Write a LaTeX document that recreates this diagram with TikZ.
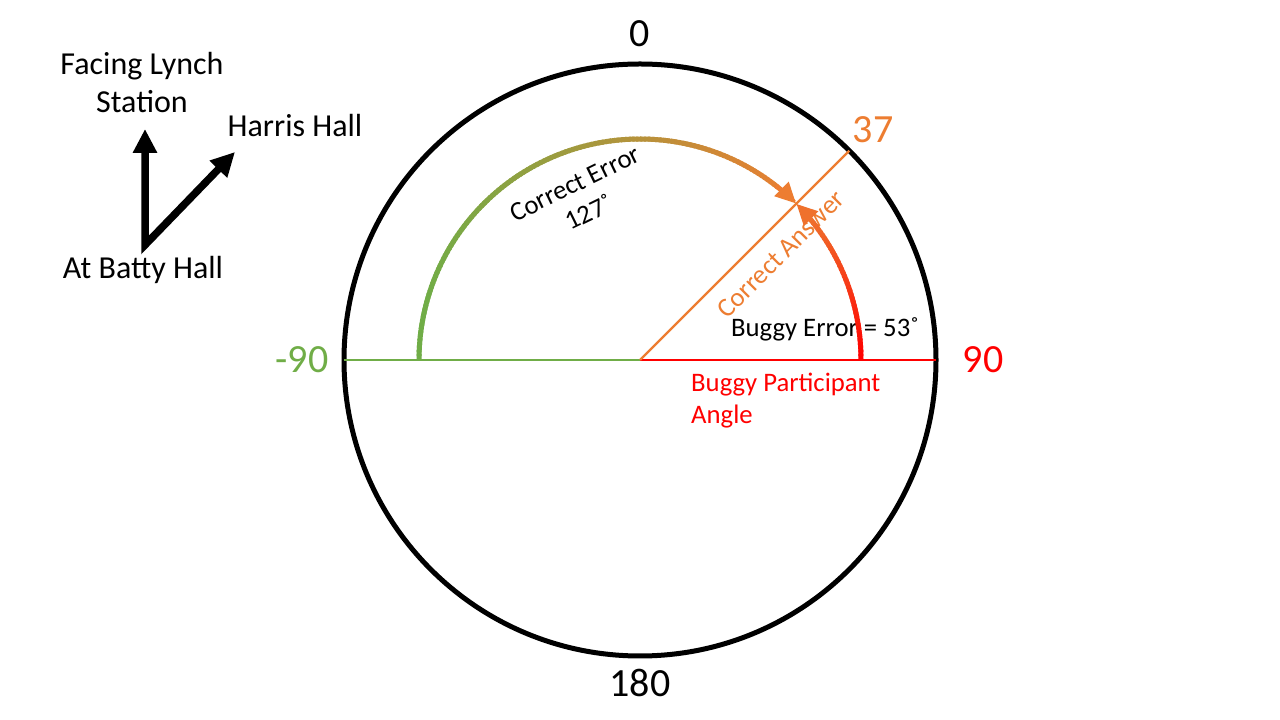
\documentclass[tikz,border=0pt]{standalone}
\usepackage{fontspec}
\setmainfont{Carlito}
\usetikzlibrary{arrows.meta}
\definecolor{grn}{RGB}{112,173,71}
\definecolor{orng}{RGB}{237,125,49}
\definecolor{rd}{RGB}{255,0,0}
\begin{document}
\begin{tikzpicture}[x=1pt,y=1pt,
  numlbl/.style={font=\fontsize{40}{44}\selectfont, inner sep=0pt, anchor=base},
  lbl/.style={font=\fontsize{32}{38}\selectfont, inner sep=0pt, align=center},
  smalllbl/.style={font=\fontsize{26.7}{32}\selectfont, inner sep=0pt, align=center},
  bigtip/.style={line width=7.5pt, {Triangle[length=24pt,width=23pt]}-{Triangle[length=24pt,width=23pt]}},
  arctip/.style={-{Triangle[length=21pt,width=19pt]}},
  arcseg/.style={line width=5pt}
  ]
\useasboundingbox[fill=white] (0,0) rectangle (1280,720);
% dial
\node[circle, draw, line width=5pt, minimum size=592pt, inner sep=0pt, outer sep=0pt] (dial) at (640,360) {};
\coordinate (ctr) at (640,360);
\draw[grn, line width=2.6pt] (dial.west) -- (ctr);
\draw[rd, line width=2.6pt] (ctr) -- (dial.east);
\draw[orng, line width=2.2pt] (ctr) -- (dial.45);
% number labels
\node[numlbl] (n0) at (640,673) {0};
\node[numlbl] (n180) at (640,23) {180};
\node[numlbl, text=grn] (nm90) at (302,347) {-90};
\node[numlbl, text=rd] (n90) at (983,347) {90};
\node[numlbl, text=orng] (n37) at (873,577) {37};
% compass
\node[lbl] (lynch) at (142,637) {Facing Lynch\\Station};
\node[lbl, anchor=base] (harris) at (295,583) {Harris Hall};
\node[lbl, anchor=base] (batty) at (143,441) {At Batty Hall};
\coordinate (bat) at (145,475);
\coordinate (lyn) at (145,591);
\coordinate (har) at (235,568);
\draw[bigtip] (lyn) -- (bat) -- (har);
% inner labels
\node[smalllbl, rotate=26] (cerr) at (582,522) {Correct Error\\127˚};
\node[smalllbl, text=orng, rotate=45] (cans) at (781,466) {Correct Answer};
\node[smalllbl, anchor=base] (berr) at (825,383) {Buggy Error = 53˚};
\node[smalllbl, text=rd, align=left, anchor=north west] (bpa) at (691,347) {Buggy Participant\\Angle};
% correct error arc (green -> orange)
\foreach \a in {180,179,...,53} {
  \pgfmathtruncatemacro\t{min(100,max(0,(221*cos(\a)+220)/380*100))}
  \draw[arcseg, draw=orng!\t!grn] ([shift={(640,360)}]\a:221) arc[start angle=\a, end angle=\a-1.6, radius=221];
}
\draw[arcseg, draw=orng, arctip] ([shift={(640,360)}]52:221) arc[start angle=52, end angle=45, radius=221];
% buggy error arc (red -> orange)
\foreach \a in {0,1,...,38} {
  \pgfmathtruncatemacro\t{min(100,sin(\a)/sin(45)*100)}
  \draw[arcseg, draw=orng!\t!rd] ([shift={(640,360)}]\a:221) arc[start angle=\a, end angle=\a+1.6, radius=221];
}
\draw[arcseg, draw=orng!90!rd, arctip] ([shift={(640,360)}]39:221) arc[start angle=39, end angle=45, radius=221];
\end{tikzpicture}
\end{document}
